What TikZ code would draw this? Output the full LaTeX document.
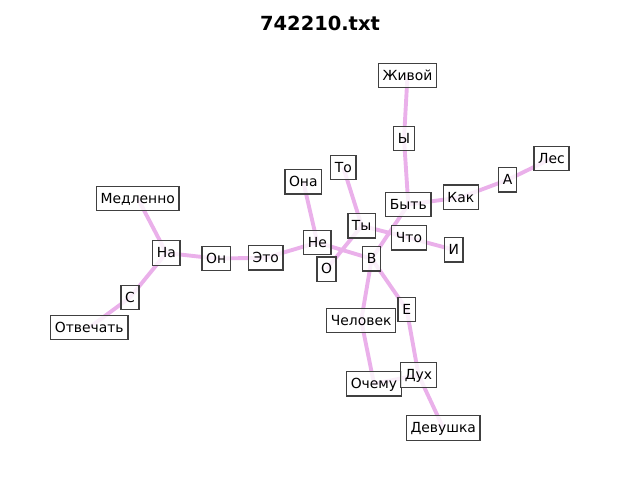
\documentclass[tikz,border=0pt]{standalone}
\usepackage{fontspec}
\setmainfont{DejaVu Sans}
\definecolor{edgecol}{RGB}{234,176,234}
\definecolor{boxline}{RGB}{64,64,64}
\pgfdeclarelayer{bg}
\pgfsetlayers{bg,main}
\begin{document}
\begin{tikzpicture}[x=0.72pt,y=-0.72pt,
  lbl/.style={draw=boxline, line width=1pt, fill=white, fill opacity=0.8, text opacity=1,
    inner xsep=3pt, inner ysep=3pt, text height=9.3pt, text depth=2.4pt,
    font=\fontsize{10}{12}\selectfont},
  edge/.style={draw=edgecol, line width=2.8pt},
  ttl/.style={font=\fontsize{14}{16}\selectfont\bfseries, inner sep=0pt}]
\useasboundingbox (0,0) rectangle (640,480);
\node[ttl] (title) at (320,23) {742210.txt};
\node[lbl] (zhivoy) at (407.5,75.5) {Живой};
\node[lbl] (y) at (404,138.5) {Ы};
\node[lbl] (to) at (343.3,167.5) {То};
\node[lbl] (ona) at (303.3,181.8) {Она};
\node[lbl] (byt) at (408.3,204.5) {Быть};
\node[lbl] (kak) at (460.8,197.3) {Как};
\node[lbl] (a) at (507.7,179.8) {А};
\node[lbl] (les) at (551.5,158.5) {Лес};
\node[lbl] (medl) at (137.8,198.5) {Медленно};
\node[lbl] (na) at (166.3,253) {На};
\node[lbl] (on) at (216.2,258.5) {Он};
\node[lbl] (eto) at (265.8,257.8) {Это};
\node[lbl] (ne) at (317.3,242.5) {Не};
\node[lbl] (o) at (326.5,269.2) {О};
\node[lbl] (ty) at (361.7,225.8) {Ты};
\node[lbl] (chto) at (409,237.8) {Что};
\node[lbl] (i) at (453.7,249.8) {И};
\node[lbl] (v) at (371.7,258.8) {В};
\node[lbl] (s) at (130,297.5) {С};
\node[lbl] (otv) at (89.3,327.5) {Отвечать};
\node[lbl] (chel) at (361.2,320.5) {Человек};
\node[lbl] (e) at (406.7,309.5) {Е};
\node[lbl] (ochemu) at (374,383.8) {Очему};
\node[lbl] (dukh) at (418.5,375) {Дух};
\node[lbl] (dev) at (443.3,428) {Девушка};
\begin{pgfonlayer}{bg}
\foreach \p/\q in {zhivoy/y, y/byt, byt/kak, kak/a, a/les, byt/v, to/ty, ty/chto, chto/i,
  ona/ne, eto/ne, ne/v, o/ty, v/chel, chel/ochemu, ochemu/dukh, v/e, e/dukh, dukh/dev,
  medl/na, na/on, on/eto, na/s, s/otv}
  \draw[edge] (\p.center) -- (\q.center);
\end{pgfonlayer}
\end{tikzpicture}
\end{document}
